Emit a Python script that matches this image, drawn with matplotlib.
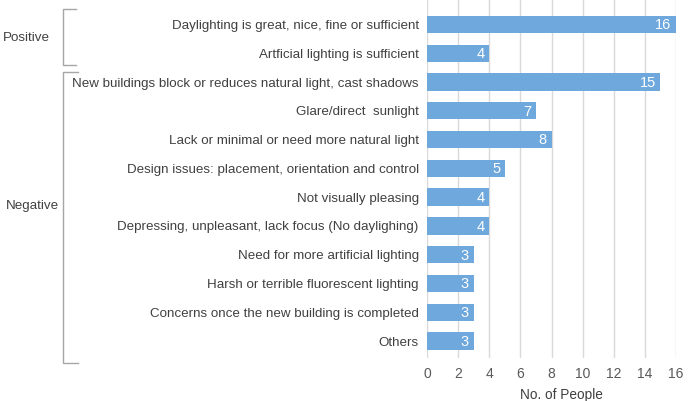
import matplotlib
matplotlib.use("Agg")
import matplotlib.pyplot as plt
from matplotlib.lines import Line2D

plt.rcParams["font.family"] = ["Liberation Sans", "DejaVu Sans"]

categories = [
    "Daylighting is great, nice, fine or sufficient",
    "Artficial lighting is sufficient",
    "New buildings block or reduces natural light, cast shadows",
    "Glare/direct  sunlight",
    "Lack or minimal or need more natural light",
    "Design issues: placement, orientation and control",
    "Not visually pleasing",
    "Depressing, unpleasant, lack focus (No daylighing)",
    "Need for more artificial lighting",
    "Harsh or terrible fluorescent lighting",
    "Concerns once the new building is completed",
    "Others",
]
counts = [16, 4, 15, 7, 8, 5, 4, 4, 3, 3, 3, 3]
x_ticks = [0, 2, 4, 6, 8, 10, 12, 14, 16]
groups = ["Positive", "Negative"]

W, H = 688, 401
fig = plt.figure(figsize=(W / 100, H / 100), dpi=100)
ax = fig.add_axes([427 / W, 1 - 358 / H, 249 / W, 358 / H])

bar_color = "#6FA8DC"
y = list(range(len(categories)))
ax.barh(y, counts, height=0.6, color=bar_color, zorder=3)

for yi, v in zip(y, counts):
    ax.text(v - 0.3, yi + 0.03, str(v), color="white", fontsize=10.5,
            ha="right", va="center", zorder=4)

ax.set_xlim(0, 16)
ax.set_ylim(11.59, -0.85)
ax.set_xticks(x_ticks)
ax.set_yticks(y)
ax.set_yticklabels(categories, fontsize=9.6, color="#404040")
ax.tick_params(axis="y", length=0, pad=6)
ax.tick_params(axis="x", length=0, pad=6.5, labelsize=10, labelcolor="#595959")
ax.grid(axis="x", color="#D9D9D9", linewidth=1, zorder=0)
for s in ax.spines.values():
    s.set_visible(False)

ax.set_xlabel("No. of People", fontsize=9.8, color="#404040")
ax.xaxis.set_label_coords((561.5 - 427) / 249, -30 / 358)

# group brackets (pixel positions on the figure)
def px(xp, yp):
    return xp / W, 1 - yp / H

def bracket(top, bottom, x0=63, x1=76):
    pts = [px(x1, top), px(x0, top), px(x0, bottom), px(x1, bottom)]
    fig.add_artist(Line2D([p[0] for p in pts], [p[1] for p in pts],
                          color="#A6A6A6", linewidth=1))

bracket(9, 65)
bracket(72, 363, x1=78)
fig.text(*px(3, 38), groups[0], fontsize=9.6, color="#404040", va="center", ha="left")
fig.text(*px(6, 206), groups[1], fontsize=9.6, color="#404040", va="center", ha="left")

fig.savefig("out.png", dpi=100)
